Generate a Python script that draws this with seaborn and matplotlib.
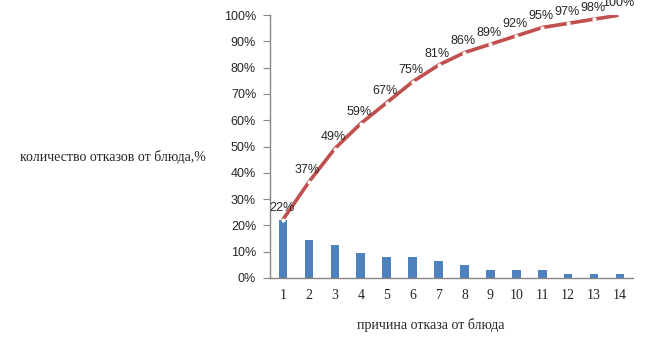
import seaborn as sns
import matplotlib.pyplot as plt
from matplotlib.ticker import FixedLocator, PercentFormatter
import pandas as pd
import numpy as np

# причины отказа от блюда (номера) и количество отказов
reasons = [str(i) for i in range(1, 15)]
counts = [14, 9, 8, 6, 5, 5, 4, 3, 2, 2, 2, 1, 1, 1]

share = [c / sum(counts) * 100 for c in counts]
cum_share = list(np.cumsum(share))

df = pd.DataFrame({"reason": reasons, "share": share, "cum": cum_share})

sns.set_style("white")
plt.rcParams["font.family"] = ["Liberation Serif", "DejaVu Serif"]

fig = plt.figure(figsize=(6.46, 3.52), dpi=100)
ax = fig.add_axes([270 / 646, 1 - 278 / 352, 363 / 646, 263 / 352])

sns.barplot(data=df, x="reason", y="share", color="#4F81BD", width=0.33,
            saturation=1, linewidth=0, ax=ax)
sns.lineplot(x=np.arange(len(reasons)), y=df["cum"], color="#C0504D",
             linewidth=2.6, marker="o", markersize=3,
             markerfacecolor="white", markeredgewidth=0, ax=ax)

for i, v in enumerate(cum_share):
    ax.annotate(f"{round(v)}%", (i, v), xytext=(-1, 4), textcoords="offset points",
                ha="center", va="bottom", fontsize=9, family="Liberation Sans",
                annotation_clip=False)

ax.set_xlim(-0.5, len(reasons) - 0.5)
ax.set_ylim(0, 100)
ax.set_yticks(range(0, 101, 10))
ax.yaxis.set_major_formatter(PercentFormatter(decimals=0))
for t in ax.get_yticklabels():
    t.set_family("Liberation Sans")
    t.set_fontsize(9)
ax.xaxis.set_minor_locator(FixedLocator(np.arange(-0.5, len(reasons), 1)))
ax.tick_params(axis="x", which="major", length=0, labelsize=10, pad=8)
ax.tick_params(axis="x", which="minor", length=5, color="#868686", direction="out")
ax.tick_params(axis="y", length=5, color="#868686", direction="out", left=True, pad=5)

for side in ["top", "right"]:
    ax.spines[side].set_visible(False)
for side in ["left", "bottom"]:
    ax.spines[side].set_color("#868686")
    ax.spines[side].set_linewidth(1)

ax.set_xlabel("причина отказа от блюда", fontsize=10)
ax.xaxis.set_label_coords((431 - 270) / 363, -(318 - 278) / 263)
ax.set_ylabel("")
fig.text(20 / 646, 1 - 157 / 352, "количество отказов от блюда,%", fontsize=10,
         ha="left", va="center")

fig.savefig("out.png", dpi=100)
